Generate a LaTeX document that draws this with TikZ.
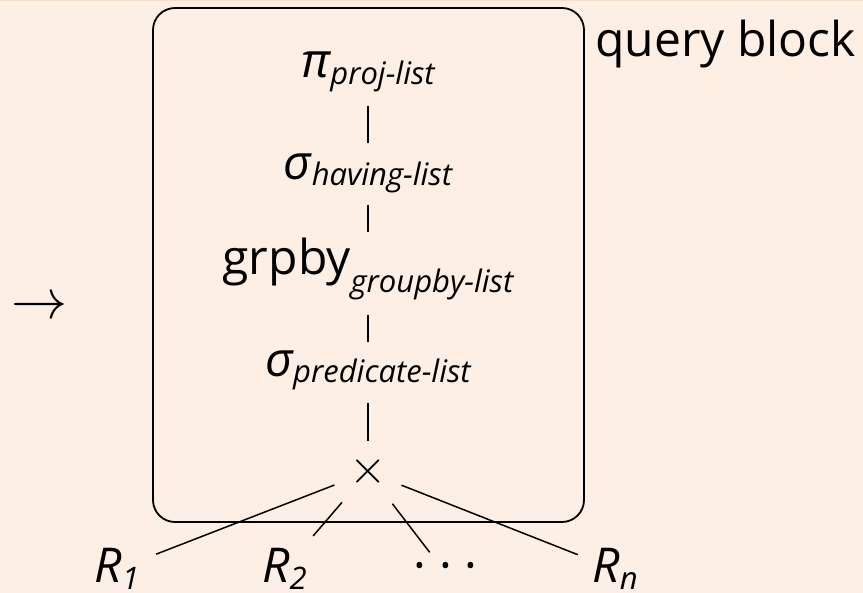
\RequirePackage{fix-cm}
\documentclass[tikz,border=0pt]{standalone}
\usepackage{fontspec}
\setmainfont{Open Sans}
\usetikzlibrary{calc}
\definecolor{bgpeach}{RGB}{254,239,228}
\definecolor{topband}{RGB}{250,222,204}
\newcommand{\mainsize}{\fontsize{48}{54}\selectfont}
\newcommand{\subsize}{\fontsize{31}{35}\selectfont}
% nucleus, subscript, drop below the baseline
\newcommand{\opname}[3]{#1\raisebox{-#3pt}{\subsize #2}}

\begin{document}
\begin{tikzpicture}[x=1pt,y=-1pt,font=\mainsize,
  treeop/.style={anchor=base},
  leaf/.style={anchor=base,inner sep=0pt},
  treeedge/.style={line width=1.5pt},
  qblock/.style={draw,line width=1.8pt,rounded corners=22pt,minimum width=431pt,minimum height=514pt,inner sep=0pt}]
\fill[bgpeach] (0,0) rectangle (863,593);
\fill[topband] (0,0) rectangle (863,1.5);
\useasboundingbox (0,0) rectangle (863,593);

\node[qblock] (block) at (368.5,265) {};
\node[anchor=base west,inner sep=0pt] (qlabel) at (595,57) {query block};
\node (arrow) at (39,308) {\fontsize{56}{60}\selectfont$\rightarrow$};

\node[treeop] (proj) at (368,78) {\opname{\itshape π}{\itshape proj-list}{7}};
\node[treeop] (having) at (368,180) {\opname{\itshape σ}{\itshape having-list}{6}};
\node[treeop] (grpby) at (368,275) {\opname{grpby}{\itshape groupby-list}{18}};
\node[treeop] (pred) at (368,377) {\opname{\itshape σ}{\itshape predicate-list}{6}};
\node (cross) at (368,472) {$\times$};

\node[leaf] (r1) at (117,583) {\opname{\itshape R}{1}{7}};
\node[leaf] (r2) at (284.5,583) {\opname{\itshape R}{2}{7}};
\node[leaf] (dots) at (445.5,583) {·\hspace{13pt}·\hspace{13pt}·};
\node[leaf] (rn) at (615,583) {\opname{\itshape R}{\itshape n}{7}};

\draw[treeedge,shorten <=28pt,shorten >=37pt] (proj.base) -- (having.base);
\draw[treeedge,shorten <=25pt,shorten >=43pt] (having.base) -- (grpby.base);
\draw[treeedge,shorten <=40pt,shorten >=35pt] (grpby.base) -- (pred.base);
\draw[treeedge,shorten <=26pt,shorten >=31pt] (pred.base) -- (cross.center);

\draw[treeedge,shorten <=36pt,shorten >=42pt] (cross.center) -- (r1.center);
\draw[treeedge,shorten <=40pt,shorten >=44pt] (cross.center) -- (r2.center);
\draw[treeedge,shorten <=40pt,shorten >=26pt] (cross.center) -- (dots.center);
\draw[treeedge,shorten <=36pt,shorten >=40pt] (cross.center) -- (rn.center);
\end{tikzpicture}
\end{document}
